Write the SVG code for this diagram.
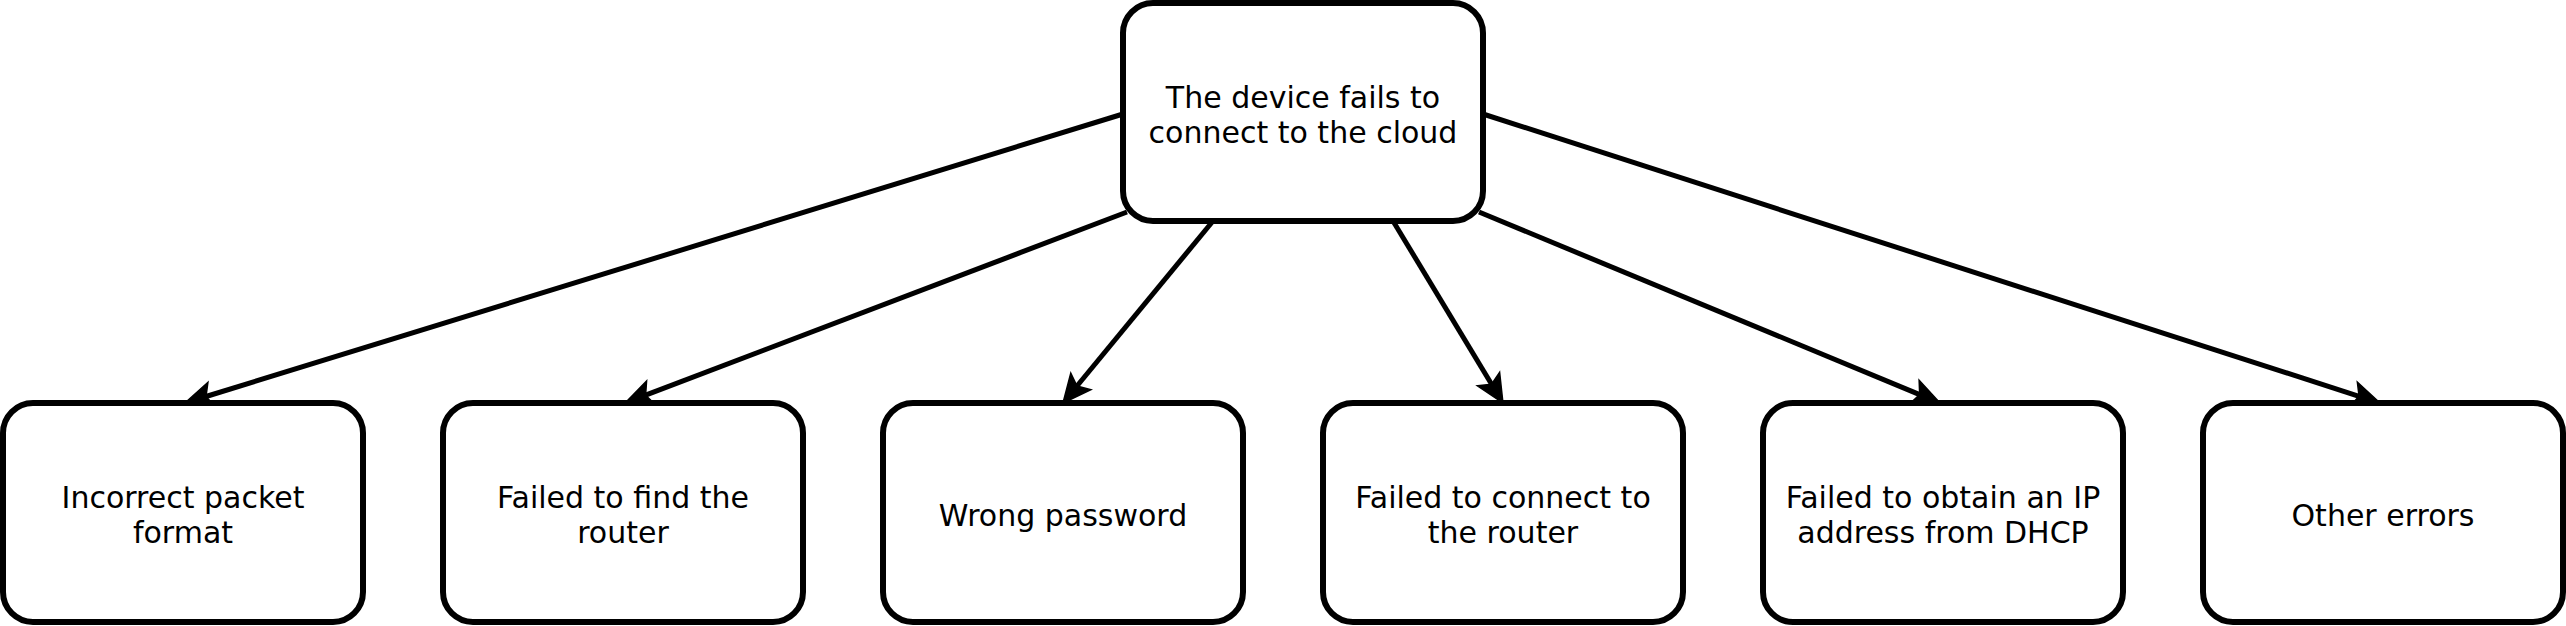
<svg xmlns="http://www.w3.org/2000/svg" width="2566" height="626" viewBox="0 0 2566 626">
<style>
.node rect{fill:#fff;stroke:#000;stroke-width:6}
.node text{font-family:"DejaVu Sans",Verdana,sans-serif;font-size:30px;fill:#000;text-anchor:middle}
.edge{fill:none;stroke:#000;stroke-width:5;marker-end:url(#arr)}
</style>
<defs>
<marker id="arr" markerUnits="userSpaceOnUse" markerWidth="32" markerHeight="30" viewBox="-8 -15 32 30" refX="0" refY="0" orient="auto">
<path d="M22,0 L-6,-13 L0,0 L-6,13 Z" fill="#000" stroke="#000" stroke-width="1.5" stroke-linejoin="miter"/>
</marker>
</defs>
<rect width="2566" height="626" fill="#fff"/>
<g id="connectors">
<path class="edge" d="M1123,114 L206.0,396.5"/>
<path class="edge" d="M1127,212 L645.6,395.2"/>
<path class="edge" d="M1213,221 L1077.0,386.0"/>
<path class="edge" d="M1393,221 L1491.6,384.2"/>
<path class="edge" d="M1479,212 L1919.7,394.6"/>
<path class="edge" d="M1483,114 L2359.1,396.3"/>
</g>
<g id="root" class="node">
<rect x="1123" y="3" width="360" height="218" rx="30" ry="30"/>
<text x="1303" y="108">The device fails to</text>
<text x="1303" y="143">connect to the cloud</text>
</g>
<g id="n1" class="node">
<rect x="3" y="403" width="360" height="219" rx="30" ry="30"/>
<text x="183" y="508">Incorrect packet</text>
<text x="183" y="543">format</text>
</g>
<g id="n2" class="node">
<rect x="443" y="403" width="360" height="219" rx="30" ry="30"/>
<text x="623" y="508">Failed to find the</text>
<text x="623" y="543">router</text>
</g>
<g id="n3" class="node">
<rect x="883" y="403" width="360" height="219" rx="30" ry="30"/>
<text x="1063" y="526">Wrong password</text>
</g>
<g id="n4" class="node">
<rect x="1323" y="403" width="360" height="219" rx="30" ry="30"/>
<text x="1503" y="508">Failed to connect to</text>
<text x="1503" y="543">the router</text>
</g>
<g id="n5" class="node">
<rect x="1763" y="403" width="360" height="219" rx="30" ry="30"/>
<text x="1943" y="508">Failed to obtain an IP</text>
<text x="1943" y="543">address from DHCP</text>
</g>
<g id="n6" class="node">
<rect x="2203" y="403" width="360" height="219" rx="30" ry="30"/>
<text x="2383" y="526">Other errors</text>
</g>
</svg>
